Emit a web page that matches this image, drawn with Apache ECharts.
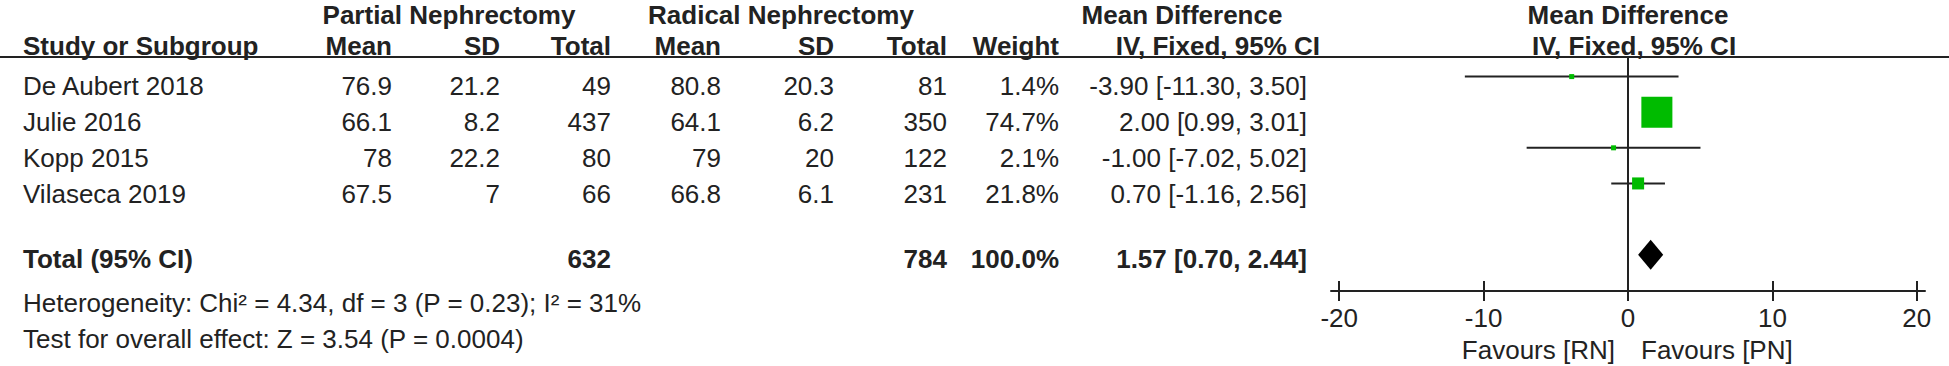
<!DOCTYPE html>
<html>
<head>
<meta charset="utf-8">
<script src="https://cdn.jsdelivr.net/npm/echarts@6/dist/echarts.min.js"></script>
<style>
html,body{margin:0;padding:0;background:#fff;}
#chart{width:1949px;height:366px;}
</style>
</head>
<body>
<div id="chart"></div>
<script>
// ---------------- data ----------------
const studies  = ['De Aubert 2018', 'Julie 2016', 'Kopp 2015', 'Vilaseca 2019'];
const pnMean   = [76.9, 66.1, 78, 67.5];
const pnSD     = [21.2, 8.2, 22.2, 7];
const pnTotal  = [49, 437, 80, 66];
const rnMean   = [80.8, 64.1, 79, 66.8];
const rnSD     = [20.3, 6.2, 20, 6.1];
const rnTotal  = [81, 350, 122, 231];
const weights  = [1.4, 74.7, 2.1, 21.8];
const md       = [-3.90, 2.00, -1.00, 0.70];
const ciLow    = [-11.30, 0.99, -7.02, -1.16];
const ciHigh   = [3.50, 3.01, 5.02, 2.56];
const totalLabel = 'Total (95% CI)';
const totalPN  = 632;
const totalRN  = 784;
const totalWeight = 100.0;
const totalMD  = 1.57;
const totalLow = 0.70;
const totalHigh = 2.44;
const xTicks   = [-20, -10, 0, 10, 20];
const heterogeneityText = 'Heterogeneity: Chi\u00B2 = 4.34, df = 3 (P = 0.23); I\u00B2 = 31%';
const overallText = 'Test for overall effect: Z = 3.54 (P = 0.0004)';
const favoursLeft = 'Favours [RN]';
const favoursRight = 'Favours [PN]';

// ---------------- layout / style ----------------
const FONT = '"Liberation Sans", Arial, Helvetica, sans-serif';
const FS = 26;
const INK = '#222222';
const GREEN = '#00bb00';
const col = {study: 23, pnMean: 392, pnSD: 500, pnTotal: 611, rnMean: 721, rnSD: 834,
             rnTotal: 947, weight: 1059, ci: 1307};
const yHead1 = 15, yHead2 = 46, yRow0 = 85.5, rowStep = 36, yTotal = 259, yHet = 303, yTest = 339;
const gridLeft = 1331, gridRight = 24, gridTop = 57, gridBottom = 75;
const xMin = -20.57, xMax = 20.57;
const yMin = -0.55, yMax = 6.02;

function fmt2(v) { return v.toFixed(2); }
function ciText(m, lo, hi) { return fmt2(m) + ' [' + fmt2(lo) + ', ' + fmt2(hi) + ']'; }
function squareSize(w) { return Math.max(5, 1.12 * Math.pow(w, 0.77)); }

function txt(str, x, y, align, bold) {
  return {
    type: 'text', x: x, y: y, silent: true,
    style: {
      text: str, x: 0, y: 0,
      align: align, textAlign: align,
      verticalAlign: 'middle', textVerticalAlign: 'middle',
      font: (bold ? 'bold ' : '') + FS + 'px ' + FONT,
      fill: INK
    }
  };
}

const graphics = [];
// header line
graphics.push({type: 'line', silent: true, shape: {x1: 0, y1: gridTop, x2: 1949, y2: gridTop},
               style: {stroke: INK, lineWidth: 2}});
// header row 1
graphics.push(txt('Partial Nephrectomy', 449, yHead1, 'center', true));
graphics.push(txt('Radical Nephrectomy', 781, yHead1, 'center', true));
graphics.push(txt('Mean Difference', 1182, yHead1, 'center', true));
graphics.push(txt('Mean Difference', 1628, yHead1, 'center', true));
// header row 2
graphics.push(txt('Study or Subgroup', col.study, yHead2, 'left', true));
graphics.push(txt('Mean', col.pnMean, yHead2, 'right', true));
graphics.push(txt('SD', col.pnSD, yHead2, 'right', true));
graphics.push(txt('Total', col.pnTotal, yHead2, 'right', true));
graphics.push(txt('Mean', col.rnMean, yHead2, 'right', true));
graphics.push(txt('SD', col.rnSD, yHead2, 'right', true));
graphics.push(txt('Total', col.rnTotal, yHead2, 'right', true));
graphics.push(txt('Weight', col.weight, yHead2, 'right', true));
graphics.push(txt('IV, Fixed, 95% CI', 1320, yHead2, 'right', true));
graphics.push(txt('IV, Fixed, 95% CI', 1634, yHead2, 'center', true));
// study rows
studies.forEach(function (s, i) {
  const y = yRow0 + i * rowStep;
  graphics.push(txt(s, col.study, y, 'left', false));
  graphics.push(txt(String(pnMean[i]), col.pnMean, y, 'right', false));
  graphics.push(txt(String(pnSD[i]), col.pnSD, y, 'right', false));
  graphics.push(txt(String(pnTotal[i]), col.pnTotal, y, 'right', false));
  graphics.push(txt(String(rnMean[i]), col.rnMean, y, 'right', false));
  graphics.push(txt(String(rnSD[i]), col.rnSD, y, 'right', false));
  graphics.push(txt(String(rnTotal[i]), col.rnTotal, y, 'right', false));
  graphics.push(txt(weights[i].toFixed(1) + '%', col.weight, y, 'right', false));
  graphics.push(txt(ciText(md[i], ciLow[i], ciHigh[i]), col.ci, y, 'right', false));
});
// total row
graphics.push(txt(totalLabel, col.study, yTotal, 'left', true));
graphics.push(txt(String(totalPN), col.pnTotal, yTotal, 'right', true));
graphics.push(txt(String(totalRN), col.rnTotal, yTotal, 'right', true));
graphics.push(txt(totalWeight.toFixed(1) + '%', col.weight, yTotal, 'right', true));
graphics.push(txt(ciText(totalMD, totalLow, totalHigh), col.ci, yTotal, 'right', true));
// footnotes
graphics.push(txt(heterogeneityText, col.study, yHet, 'left', false));
graphics.push(txt(overallText, col.study, yTest, 'left', false));

// ---------------- series data ----------------
const studyData = studies.map(function (s, i) { return [i, ciLow[i], md[i], ciHigh[i], weights[i]]; });
const totalRow = studies.length + 1;
const totalData = [[totalRow, totalLow, totalMD, totalHigh]];

const chart = echarts.init(document.getElementById('chart'), null, {renderer: 'svg', width: 1949, height: 366});

const axisBase = {
  type: 'value', gridIndex: 0, position: 'bottom', min: xMin, max: xMax,
  splitLine: {show: false}
};

chart.setOption({
  animation: false,
  backgroundColor: '#ffffff',
  grid: {left: gridLeft, right: gridRight, top: gridTop, bottom: gridBottom, containLabel: false},
  xAxis: [
    Object.assign({}, axisBase, {
      axisLine: {show: true, onZero: false, lineStyle: {color: INK, width: 2}},
      axisTick: {show: true, inside: false, length: 10, lineStyle: {color: INK, width: 2}, customValues: xTicks},
      axisLabel: {show: true, customValues: xTicks, margin: 14, color: INK, fontSize: FS, fontFamily: FONT}
    }),
    Object.assign({}, axisBase, {
      axisLine: {show: false, onZero: false},
      axisTick: {show: true, inside: true, length: 10, lineStyle: {color: INK, width: 2}, customValues: xTicks},
      axisLabel: {show: false}
    })
  ],
  yAxis: {type: 'value', inverse: true, min: yMin, max: yMax, show: false,
          axisLine: {onZero: false}, splitLine: {show: false}},
  graphic: graphics,
  series: [
    {
      type: 'custom',
      xAxisIndex: 0, yAxisIndex: 0,
      data: studyData,
      encode: {x: [1, 2, 3], y: 0},
      renderItem: function (params, api) {
        const row = api.value(0);
        const pLo = api.coord([api.value(1), row]);
        const pM = api.coord([api.value(2), row]);
        const pHi = api.coord([api.value(3), row]);
        const s = squareSize(api.value(4));
        return {
          type: 'group',
          children: [
            {type: 'line', shape: {x1: pLo[0], y1: pLo[1], x2: pHi[0], y2: pHi[1]},
             style: {stroke: INK, lineWidth: 2}},
            {type: 'rect', shape: {x: pM[0] - s / 2, y: pM[1] - s / 2, width: s, height: s},
             style: {fill: GREEN}}
          ]
        };
      },
      markLine: {
        silent: true, symbol: 'none', label: {show: false},
        lineStyle: {color: INK, width: 2, type: 'solid'},
        data: [{xAxis: 0}]
      },
      z: 3
    },
    {
      type: 'custom',
      xAxisIndex: 0, yAxisIndex: 0,
      data: totalData,
      encode: {x: [1, 2, 3], y: 0},
      renderItem: function (params, api) {
        const row = api.value(0);
        const pLo = api.coord([api.value(1), row]);
        const pM = api.coord([api.value(2), row]);
        const pHi = api.coord([api.value(3), row]);
        const h = 15;
        return {
          type: 'polygon',
          shape: {points: [pLo, [pM[0], pM[1] - h], pHi, [pM[0], pM[1] + h]]},
          style: {fill: '#000000'}
        };
      },
      z: 4
    }
  ]
});

// favours labels placed relative to the zero line of the axis
const zeroX = chart.convertToPixel({xAxisIndex: 0}, 0);
chart.setOption({
  graphic: graphics.concat([
    txt(favoursLeft, zeroX - 13, 350, 'right', false),
    txt(favoursRight, zeroX + 13, 350, 'left', false)
  ])
});
</script>
</body>
</html>
